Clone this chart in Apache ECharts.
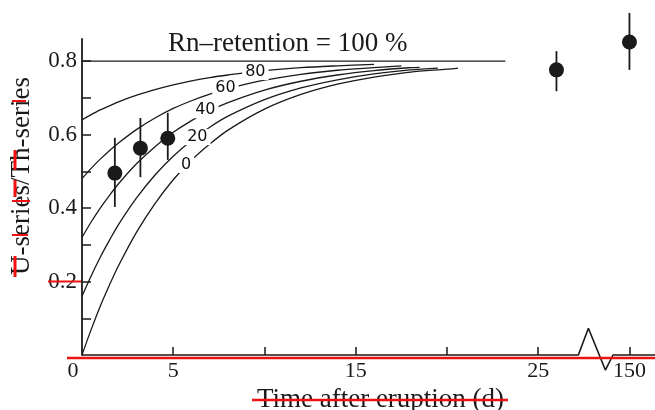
<!DOCTYPE html>
<html>
<head>
<meta charset="utf-8">
<script src="https://cdn.jsdelivr.net/npm/echarts@6/dist/echarts.min.js"></script>
<style>
html,body{margin:0;padding:0;background:#fff;}
#c{width:655px;height:410px;}
</style>
</head>
<body>
<div id="c"></div>
<script>
// ---- data ----
const obsDays  = [1.8, 3.2, 4.7, 26, 150];
const obsRatio = [0.495, 0.563, 0.590, 0.776, 0.852];
const obsLow   = [0.403, 0.484, 0.531, 0.718, 0.776];
const obsHigh  = [0.591, 0.645, 0.659, 0.827, 0.931];

// model curves (Rn retention %)
const curveDays0  = [0, 0.5, 1, 1.5, 2, 3, 4, 5, 6, 7, 8, 10, 12, 14, 16, 18, 20, 20.6];
const curve0      = [0, 0.069, 0.133, 0.190, 0.243, 0.335, 0.412, 0.477, 0.530, 0.574, 0.612, 0.669, 0.709, 0.737, 0.756, 0.770, 0.778, 0.781];
const curveDays20 = [0, 0.5, 1, 1.5, 2, 3, 4, 5, 6, 7, 8, 10, 12, 14, 16, 18, 19.5];
const curve20     = [0.16, 0.215, 0.266, 0.312, 0.355, 0.428, 0.490, 0.541, 0.584, 0.620, 0.650, 0.695, 0.727, 0.749, 0.765, 0.776, 0.781];
const curveDays40 = [0, 0.5, 1, 1.5, 2, 3, 4, 5, 6, 7, 8, 10, 12, 14, 16, 18, 18.5];
const curve40     = [0.32, 0.362, 0.400, 0.434, 0.466, 0.521, 0.567, 0.606, 0.638, 0.665, 0.687, 0.721, 0.745, 0.762, 0.774, 0.782, 0.783];
const curveDays60 = [0, 0.5, 1, 1.5, 2, 3, 4, 5, 6, 7, 8, 10, 12, 14, 16, 17.5];
const curve60     = [0.48, 0.508, 0.533, 0.556, 0.577, 0.614, 0.645, 0.671, 0.692, 0.710, 0.725, 0.748, 0.764, 0.775, 0.782, 0.787];
const curveDays80 = [0, 0.5, 1, 1.5, 2, 3, 4, 5, 6, 7, 8, 10, 12, 14, 16];
const curve80     = [0.64, 0.654, 0.667, 0.678, 0.689, 0.707, 0.722, 0.735, 0.746, 0.755, 0.762, 0.774, 0.782, 0.787, 0.791];
const curve100Days = [0, 23.2];
const curve100     = [0.8, 0.8];

const curveLabels   = ['80', '60', '40', '20', '0'];
const curveLabelDay = [9.5, 7.86, 6.76, 6.32, 5.71];
const curveLabelVal = [0.770, 0.726, 0.666, 0.593, 0.517];

const xTickDays  = [5, 10, 15, 20, 25, 150];
const xLabelDays = [0, 5, 15, 25, 150];
const yTickVals  = [0.1, 0.2, 0.3, 0.4, 0.5, 0.6, 0.7, 0.8];
const yLabelVals = [0.2, 0.4, 0.6, 0.8];

// broken time axis: days after the break are shifted left
const BREAK_AT = 100, BREAK_SHIFT = 120;
const toAxis = d => d > BREAK_AT ? d - BREAK_SHIFT : d;
const fromAxis = v => v > 28 ? v + BREAK_SHIFT : v;

// axis break marker path in axis units
const breakPathX = [0, 27.2, 27.75, 28.68, 29.1, 31.4];
const breakPathY = [0, 0, 0.073, -0.041, 0, 0];

const SERIF = '"Liberation Serif", "DejaVu Serif", serif';
const INK = '#1a1a1a';

function pairs(xs, ys) { return xs.map((x, i) => [toAxis(x), ys[i]]); }

const chart = echarts.init(document.getElementById('c'), null, {renderer: 'canvas'});

function curveSeries(name, xs, ys) {
  return {
    name: name, type: 'line', data: pairs(xs, ys), smooth: 0.3,
    symbol: 'none', silent: true, z: 2,
    lineStyle: {color: INK, width: 1.3}
  };
}

const option = {
  animation: false,
  backgroundColor: '#fff',
  title: {
    text: 'Rn\u2013retention = 100 %',
    left: 163, top: 25,
    textStyle: {fontFamily: SERIF, fontSize: 27, fontWeight: 'normal', color: INK}
  },
  grid: {left: 82, right: 0, top: 39, bottom: 55, outerBoundsMode: 'none', containLabel: false},
  xAxis: {
    type: 'value', min: 0, max: 31.4,
    name: 'Time after eruption (d)',
    nameLocation: 'middle', nameGap: 31,
    nameTextStyle: {fontFamily: SERIF, fontSize: 27, color: INK, padding: [0, 0, 0, 24]},
    axisLine: {show: false},
    axisTick: {show: true, inside: true, length: 8, customValues: xTickDays.map(toAxis),
               lineStyle: {color: INK, width: 1.5}},
    axisLabel: {
      show: true, margin: 5, customValues: xLabelDays.map(toAxis),
      fontFamily: SERIF, fontSize: 22, color: INK,
      formatter: v => { const d = Math.round(fromAxis(v)); return d === 0 ? '{z|0}' : String(d); },
      rich: {z: {fontFamily: SERIF, fontSize: 22, color: INK, padding: [0, 18, 0, 0]}}
    },
    splitLine: {show: false}
  },
  yAxis: {
    type: 'value', min: 0, max: 0.86,
    name: 'U-series/Th-series',
    nameLocation: 'middle', nameGap: 47,
    nameTextStyle: {fontFamily: SERIF, fontSize: 27, color: INK, padding: [0, 0, 0, 42]},
    axisLine: {show: true, lineStyle: {color: INK, width: 1.8}},
    axisTick: {show: true, inside: true, length: 9, customValues: yTickVals,
               lineStyle: {color: INK, width: 1.5}},
    axisLabel: {
      show: true, margin: 5, customValues: yLabelVals,
      fontFamily: SERIF, fontSize: 23, color: INK,
      formatter: v => v.toFixed(1)
    },
    splitLine: {show: false}
  },
  series: [
    {
      name: 'axis', type: 'line', data: pairs(breakPathX, breakPathY),
      symbol: 'none', silent: true, clip: false, z: 3,
      lineStyle: {color: INK, width: 1.6}
    },
    curveSeries('100%', curve100Days, curve100),
    curveSeries('80%', curveDays80, curve80),
    curveSeries('60%', curveDays60, curve60),
    curveSeries('40%', curveDays40, curve40),
    curveSeries('20%', curveDays20, curve20),
    curveSeries('0%', curveDays0, curve0),
    {
      name: 'curve labels', type: 'scatter', symbol: 'circle', symbolSize: 1, silent: true, z: 4,
      itemStyle: {color: 'rgba(255,255,255,0)', opacity: 1},
      data: curveLabels.map((t, i) => ({value: [toAxis(curveLabelDay[i]), curveLabelVal[i]], name: t})),
      label: {
        show: true, position: 'inside', formatter: p => p.name,
        fontFamily: '"DejaVu Sans", sans-serif', fontSize: 16, color: '#111', opacity: 1,
        backgroundColor: '#fff', padding: [0, 3]
      }
    },
    {
      name: 'error bars', type: 'custom', clip: false, z: 5,
      data: obsDays.map((d, i) => [toAxis(d), obsLow[i], obsHigh[i]]),
      encode: {x: 0, y: [1, 2]},
      renderItem: (params, api) => {
        const a = api.coord([api.value(0), api.value(1)]);
        const b = api.coord([api.value(0), api.value(2)]);
        return {type: 'line', shape: {x1: a[0], y1: a[1], x2: b[0], y2: b[1]},
                style: {stroke: INK, lineWidth: 1.8}};
      }
    },
    {
      name: 'observed', type: 'scatter', clip: false, z: 6,
      data: pairs(obsDays, obsRatio),
      symbol: 'circle', symbolSize: 15,
      itemStyle: {color: INK, opacity: 1}
    }
  ]
};
chart.setOption(option);

// red annotation marks
const RED = '#ee1111';
const p0 = chart.convertToPixel({gridIndex: 0}, [0, 0]);
const p02 = chart.convertToPixel({gridIndex: 0}, [0, 0.2]);
function redLine(x1, y1, x2, y2, w) {
  return {type: 'line', shape: {x1, y1, x2, y2}, style: {stroke: RED, lineWidth: w}, z: 100, silent: true};
}
chart.setOption({
  graphic: [
    redLine(67, p0[1] + 3, 655, p0[1] + 3, 2.6),
    redLine(48, p02[1], p0[0] - 1, p02[1], 2.2),
    redLine(252, 400, 508, 400, 2.4),
    redLine(15, 256, 15, 277, 3),
    redLine(12, 235, 28, 235, 2),
    redLine(12, 201, 30, 201, 2),
    redLine(15, 180, 15, 197, 3),
    redLine(15, 150, 15, 170, 3),
    redLine(12, 101, 26, 101, 2)
  ]
});
</script>
</body>
</html>
